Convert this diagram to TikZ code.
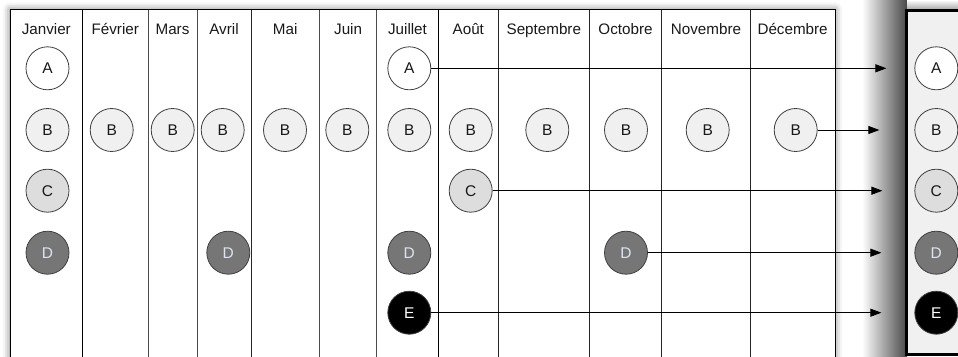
\documentclass[tikz,border=0pt]{standalone}
\usepackage{fontspec}
\setmainfont{Liberation Sans}
\usetikzlibrary{arrows.meta, shadows.blur}
\definecolor{tokB}{RGB}{240,240,240}
\definecolor{tokC}{RGB}{221,221,221}
\definecolor{tokD}{RGB}{118,118,118}
\definecolor{txtD}{RGB}{222,228,238}
\definecolor{panel}{RGB}{240,240,240}

\begin{document}
\begin{tikzpicture}[
    x=1pt, y=-1pt,
    month/.style={font=\fontsize{15.2}{18}\selectfont, inner sep=1pt,
                  text height=11pt, text depth=3pt, text=black!90},
    token/.style={circle, draw=black!75, line width=0.8pt,
                  minimum size=43pt, inner sep=0pt,
                  font=\fontsize{15.5}{18}\selectfont},
    tokenA/.style={token, fill=white, text=black!90},
    tokenB/.style={token, fill=tokB, text=black!90},
    tokenC/.style={token, fill=tokC, text=black!90},
    tokenD/.style={token, fill=tokD, text=txtD},
    tokenE/.style={token, fill=black, text=white},
    colline/.style={line width=0.9pt, color=black!70},
    flow/.style={-{Triangle[length=11pt,width=8pt]}, line width=0.9pt,
                 color=black},
]
\clip (0,0) rectangle (958,356);

% ==========================================================
% Month table
% ==========================================================
\draw[black, line width=1pt, fill=white,
      blur shadow={shadow xshift=0pt, shadow yshift=0pt,
                   shadow blur radius=7pt, shadow opacity=55}]
    (10,9.5) rectangle (835,380);
\draw[colline, color=black] (82.7,9.5) -- (82.7,380);
\draw[colline] (148,9.5) -- (148,380);
\draw[colline] (197,9.5) -- (197,380);
\draw[colline, color=black!85] (251,9.5) -- (251,380);
\draw[colline] (319.5,9.5) -- (319.5,380);
\draw[colline] (376.7,9.5) -- (376.7,380);
\draw[colline, color=black] (438.3,9.5) -- (438.3,380);
\draw[colline, color=black!85] (498.3,9.5) -- (498.3,380);
\draw[colline, color=black!85] (589.3,9.5) -- (589.3,380);
\draw[colline, color=black!85] (661.7,9.5) -- (661.7,380);
\draw[colline, color=black!85] (750.3,9.5) -- (750.3,380);

\node[month] (lab-jan) at (46.3,30)  {Janvier};
\node[month] (lab-feb) at (115.3,30) {Février};
\node[month] (lab-mar) at (172.5,30) {Mars};
\node[month] (lab-apr) at (224,30)   {Avril};
\node[month] (lab-may) at (285.2,30) {Mai};
\node[month] (lab-jun) at (348.1,30) {Juin};
\node[month] (lab-jul) at (407.5,30) {Juillet};
\node[month] (lab-aug) at (468.3,30) {Août};
\node[month] (lab-sep) at (543.8,30) {Septembre};
\node[month] (lab-oct) at (625.5,30) {Octobre};
\node[month] (lab-nov) at (706,30)   {Novembre};
\node[month] (lab-dec) at (792.6,30) {Décembre};

% ==========================================================
% Result panel
% ==========================================================
\shade[left color=white, middle color=black!22, right color=black!72]
    (862,0) rectangle (907,356);
\shade[top color=white, bottom color=black!40]
    (907,0) rectangle (958,11);
\draw[line width=3pt, fill=panel] (906.5,10.8) rectangle (980,354.5);

\node[tokenA] (pa) at (936.3,68.3)  {A};
\node[tokenB] (pb) at (936.3,130)   {B};
\node[tokenC] (pc) at (936.3,190.7) {C};
\node[tokenD] (pd) at (936.3,252.7) {D};
\node[tokenE] (pe) at (936.3,312.7) {E};

% -------- row A -----------
\node[tokenA] (a1) at (47.5,68.3)  {A};
\node[tokenA] (a7) at (409.3,68.3) {A};

% -------- row B -----------
\node[tokenB] (b1)  at (47.5,130)  {B};
\node[tokenB] (b2)  at (111.7,130) {B};
\node[tokenB] (b3)  at (172.7,130) {B};
\node[tokenB] (b4)  at (222.7,130) {B};
\node[tokenB] (b5)  at (285,130)   {B};
\node[tokenB] (b6)  at (347.3,130) {B};
\node[tokenB] (b7)  at (409.3,130) {B};
\node[tokenB] (b8)  at (470.7,130) {B};
\node[tokenB] (b9)  at (547.3,130) {B};
\node[tokenB] (b10) at (626,130)   {B};
\node[tokenB] (b11) at (707.7,130) {B};
\node[tokenB] (b12) at (795.7,130) {B};

% -------- row C -----------
\node[tokenC] (c1) at (47.5,190.7)  {C};
\node[tokenC] (c8) at (470.7,190.7) {C};

% -------- rows D and E -----------
\node[tokenD] (d1)  at (47.5,252.7)  {D};
\node[tokenD] (d4)  at (228.3,252.7) {D};
\node[tokenD] (d7)  at (409.3,252.7) {D};
\node[tokenD] (d10) at (626,252.7)   {D};
\node[tokenE] (e7)  at (409.3,312.7) {E};

% ==========================================================
% Last occurrences carried over to the panel
% ==========================================================
\draw[flow, shorten >=28pt] (a7.east) -- (pa.west);
\draw[flow, shorten >=35pt] (b12.east) -- (pb.west);
\draw[flow, shorten >=32pt] (c8.east) -- (pc.west);
\draw[flow, shorten >=33pt] (d10.east) -- (pd.west);
\draw[flow, shorten >=33pt] (e7.east) -- (pe.west);

\end{tikzpicture}
\end{document}
